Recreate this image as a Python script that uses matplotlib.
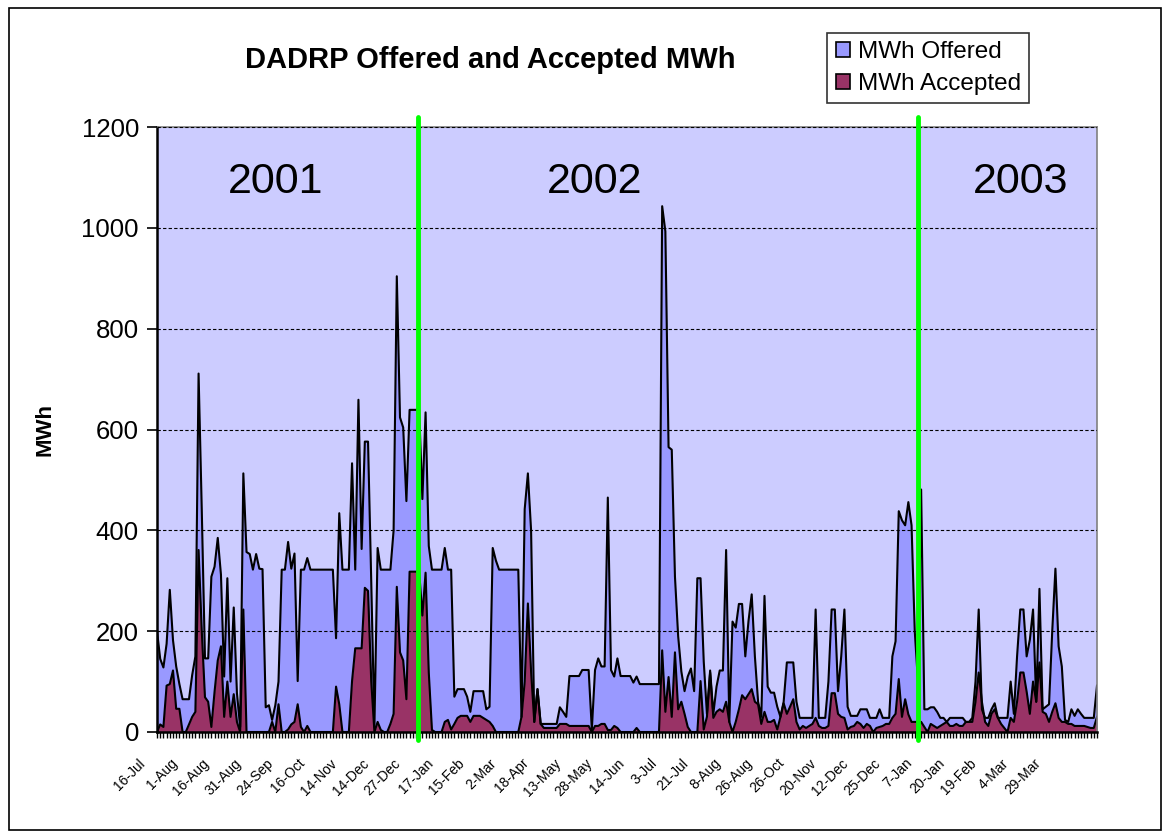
import numpy as np
import matplotlib
matplotlib.use("Agg")
import matplotlib.pyplot as plt
import matplotlib.transforms as mtransforms
from matplotlib.patches import Patch, Rectangle
from matplotlib.ticker import MultipleLocator

plt.rcParams['font.family'] = ['Liberation Sans', 'DejaVu Sans']

# MWh offered per event day
offered = [
    200, 145, 128, 175, 282, 182, 130, 95, 65, 65,
    65, 113, 150, 711, 440, 146, 146, 308, 328, 385,
    312, 110, 305, 100, 247, 77, 10, 513, 357, 353,
    322, 353, 324, 323, 49, 53, 24, 53, 100, 322,
    322, 377, 324, 354, 101, 322, 322, 345, 322, 322,
    322, 322, 322, 322, 322, 322, 186, 434, 322, 322,
    322, 533, 322, 659, 363, 576, 576, 300, 10, 365,
    322, 322, 322, 322, 400, 904, 624, 604, 458, 639,
    639, 639, 639, 462, 634, 369, 322, 322, 322, 322,
    365, 322, 322, 70, 85, 85, 85, 70, 40, 81,
    81, 81, 81, 45, 50, 365, 340, 322, 322, 322,
    322, 322, 322, 322, 30, 442, 513, 400, 20, 85,
    16, 16, 16, 16, 16, 16, 49, 40, 30, 111,
    111, 111, 111, 123, 123, 123, 5, 123, 146, 130,
    130, 465, 123, 110, 146, 111, 111, 111, 111, 98,
    110, 95, 95, 95, 95, 95, 95, 95, 1043, 993,
    565, 560, 308, 190, 120, 81, 110, 126, 81, 305,
    305, 140, 36, 122, 36, 90, 122, 122, 361, 20,
    219, 207, 254, 254, 150, 220, 273, 150, 60, 30,
    270, 90, 78, 78, 50, 30, 60, 138, 138, 138,
    60, 28, 28, 28, 28, 28, 243, 28, 28, 28,
    100, 243, 243, 81, 150, 243, 50, 32, 32, 32,
    45, 45, 45, 28, 28, 28, 45, 28, 28, 28,
    150, 180, 438, 420, 410, 456, 410, 200, 100, 481,
    45, 45, 49, 49, 40, 28, 28, 20, 28, 28,
    28, 28, 28, 20, 20, 28, 100, 243, 45, 28,
    28, 45, 57, 28, 28, 28, 28, 100, 36, 150,
    243, 243, 150, 183, 243, 60, 284, 45, 50, 55,
    200, 324, 170, 130, 24, 20, 45, 32, 45, 36,
    28, 28, 28, 28, 92,
]

# MWh accepted per event day
accepted = [
    0, 15, 10, 92, 95, 122, 46, 46, 0, 0,
    15, 30, 40, 361, 200, 69, 60, 10, 80, 142,
    170, 30, 100, 30, 75, 20, 0, 243, 0, 0,
    0, 0, 0, 0, 0, 0, 20, 0, 55, 0,
    0, 5, 15, 20, 55, 10, 0, 12, 0, 0,
    0, 0, 0, 0, 0, 0, 90, 55, 0, 0,
    0, 101, 166, 166, 166, 286, 280, 101, 0, 20,
    4, 0, 0, 16, 36, 288, 158, 142, 65, 318,
    318, 318, 318, 231, 316, 118, 4, 0, 0, 0,
    20, 24, 5, 16, 28, 32, 32, 32, 20, 32,
    32, 32, 28, 24, 20, 12, 0, 0, 0, 0,
    0, 0, 0, 0, 30, 100, 255, 120, 20, 85,
    16, 8, 8, 8, 8, 8, 16, 16, 16, 12,
    12, 12, 12, 12, 12, 12, 0, 12, 12, 16,
    16, 4, 4, 12, 8, 0, 0, 0, 0, 0,
    8, 0, 0, 0, 0, 0, 0, 0, 162, 40,
    109, 30, 158, 45, 60, 36, 10, 0, 0, 0,
    101, 5, 30, 118, 28, 40, 45, 40, 60, 20,
    0, 20, 45, 73, 65, 75, 85, 60, 55, 16,
    40, 20, 20, 24, 5, 30, 57, 36, 50, 65,
    20, 5, 12, 8, 12, 16, 28, 12, 8, 8,
    12, 77, 77, 36, 30, 28, 5, 10, 12, 20,
    16, 8, 16, 12, 0, 8, 10, 12, 16, 16,
    28, 36, 105, 30, 65, 35, 20, 20, 20, 20,
    10, 0, 16, 12, 8, 12, 16, 20, 12, 12,
    16, 12, 12, 20, 20, 20, 60, 118, 60, 20,
    12, 36, 45, 28, 16, 8, 0, 28, 20, 60,
    118, 118, 80, 36, 100, 60, 138, 40, 36, 20,
    40, 57, 28, 20, 20, 16, 16, 12, 12, 12,
    12, 10, 8, 8, 30,
]

date_labels = ['16-Jul', '1-Aug', '16-Aug', '31-Aug', '24-Sep', '16-Oct', '14-Nov',
               '14-Dec', '27-Dec', '17-Jan', '15-Feb', '2-Mar', '18-Apr', '13-May',
               '28-May', '14-Jun', '3-Jul', '21-Jul', '8-Aug', '26-Aug', '26-Oct',
               '20-Nov', '12-Dec', '25-Dec', '7-Jan', '20-Jan', '19-Feb', '4-Mar',
               '29-Mar']
label_step = 10
years = ['2001', '2002', '2003']
year_pos = [37, 137, 270]        # category position of the year text
year_breaks = [81.5, 237.9]      # category position of the green separators

x = np.arange(len(offered))
off = np.array(offered)
acc = np.array(accepted)

fig = plt.figure(figsize=(11.7, 8.38), dpi=100)
ax = fig.add_axes([0.1342, 0.1265, 0.8034, 0.7219])
ax.set_facecolor('#CCCCFF')

ax.fill_between(x, 0, off, color='#9999FF', lw=0)
ax.plot(x, off, color='black', lw=1.5)
ax.fill_between(x, 0, acc, color='#993366', lw=0)
ax.plot(x, acc, color='black', lw=1.5)

ax.set_xlim(0, len(x) - 1)
ax.set_ylim(0, 1200)
ax.set_yticks(np.arange(0, 1201, 200))
ax.yaxis.grid(True, color='black', linestyle=(0, (3, 2)), lw=0.8)
ax.set_axisbelow(False)
ax.tick_params(axis='y', labelsize=18.5, length=7, width=1.2, pad=6)

ax.set_xticks(np.arange(0, len(date_labels) * label_step, label_step))
ax.set_xticklabels(date_labels, rotation=45, ha='right', va='top',
                   rotation_mode='anchor', fontsize=10)
ax.xaxis.set_minor_locator(MultipleLocator(1))
ax.tick_params(axis='x', which='both', length=4, width=1, pad=4)
shift = mtransforms.ScaledTranslation(-0.19, -0.13, fig.dpi_scale_trans)
for lbl in ax.get_xticklabels():
    lbl.set_transform(lbl.get_transform() + shift)

for side in ['top', 'right']:
    ax.spines[side].set_color('#808080')
    ax.spines[side].set_linewidth(1.2)
for side in ['left', 'bottom']:
    ax.spines[side].set_color('black')
    ax.spines[side].set_linewidth(1.8)

for xb in year_breaks:
    ax.plot([xb, xb], [1220, -16], color='#00FF00', lw=3.5,
            solid_capstyle='round', clip_on=False, zorder=5)

for name, pos in zip(years, year_pos):
    ax.text(pos, 1090, name, fontsize=31, ha='center', va='center')

ax.set_ylabel('MWh', fontsize=16, fontweight='bold')
ax.yaxis.set_label_coords(-0.1085, 0.5)

fig.text(0.419, 0.928, 'DADRP Offered and Accepted MWh', fontsize=21,
         fontweight='bold', ha='center', va='center')

handles = [Patch(facecolor='#9999FF', edgecolor='black', lw=1.2),
           Patch(facecolor='#993366', edgecolor='black', lw=1.2)]
leg = fig.legend(handles, ['MWh Offered', 'MWh Accepted'], loc='upper left',
                 bbox_to_anchor=(0.707, 0.961), fontsize=17.5, frameon=True,
                 fancybox=False, edgecolor='black', handlelength=0.6,
                 handleheight=0.6, handletextpad=0.3, borderpad=0.35,
                 labelspacing=0.4, borderaxespad=0)
leg.get_frame().set_linewidth(1.2)

fig.patches.append(Rectangle((0.008, 0.01), 0.984, 0.98, transform=fig.transFigure,
                             fill=False, edgecolor='black', lw=1.2))

fig.savefig('out.png', dpi=100)
